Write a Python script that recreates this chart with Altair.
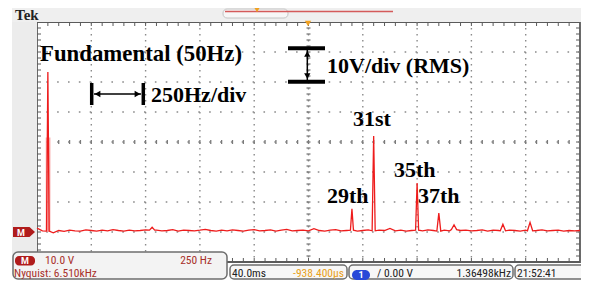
import altair as alt
import pandas as pd

# ---------------- data read from the screen ----------------
# spectrum floor (V RMS), one value every 25 Hz from 0 to 2500 Hz
FLOOR_STEP_HZ = 25
floor_volts = [
    1.3, 0.4, 0.3, -0.3, 0.5, 0.2, 0.6, 0.4, 0.3, 0.7,
    0.5, 0.3, 0.6, 0.4, 0.8, 0.5, 0.3, 0.6, 0.4, 0.5,
    0.7, 0.6, 0.6, 0.4, 0.5, 0.8, 0.3, 0.6, 0.5, 0.4,
    0.6, 0.9, 0.5, 0.3, 0.6, 0.4, 0.7, 0.5, 0.3, 0.6,
    0.8, 0.4, 0.5, 0.7, 0.3, 0.6, 0.9, 0.4, 0.5, 0.6,
    0.4, 1.1, 0.5, 0.3, 0.6, 0.8, 0.4, 0.5, 0.6, 0.3,
    0.5, 0.7, 0.4, 0.6, 0.5, 1.2, 0.4, 0.6, 0.3, 0.5,
    0.6, 0.4, 0.7, 0.5, 0.3, 0.6, 0.4, 0.8, 0.5, 0.6,
    0.4, 0.5, 0.7, 0.3, 0.6, 0.5, 0.4, 0.6, 0.5, 0.3,
    0.6, 0.4, 0.5, 0.7, 0.4, 0.5, 0.6, 0.3, 0.5, 0.4,
    0.5,
]
# spectral lines: frequency (Hz), amplitude (V RMS), half width (Hz)
peak_freqs = [50, 530, 1450, 1550, 1750, 1850, 1920, 2145, 2270]
peak_volts = [53.3, 1.6, 7.7, 32.0, 16.3, 6.3, 2.4, 2.6, 3.2]
peak_halfwidth = [6, 12, 7, 7, 7, 9, 12, 12, 12]
# envelope drawn around the fundamental
fund_env_hz = [40, 62]
fund_env_volts = [0, 31.5]

harmonic_labels = ["29th", "31st", "35th", "37th"]

# ---------------- build the trace ----------------
pts = []
for i, v in enumerate(floor_volts):
    f = i * FLOOR_STEP_HZ
    if any(abs(f - pf) <= hw + 3 for pf, hw in zip(peak_freqs, peak_halfwidth)):
        continue
    pts.append((f, v))
for pf, pv, hw in zip(peak_freqs, peak_volts, peak_halfwidth):
    base = floor_volts[int(round(pf / FLOOR_STEP_HZ))]
    pts += [(pf - hw, base), (pf, pv), (pf + hw, base)]
pts.sort()
trace = pd.DataFrame(pts, columns=["f", "v"])

XS = alt.Scale(domain=[0, 2500], nice=False, zero=False)
YS = alt.Scale(domain=[-10, 70], nice=False, zero=False)


def X(field):
    return alt.X(field, type="quantitative", scale=XS, axis=None)


def Y(field):
    return alt.Y(field, type="quantitative", scale=YS, axis=None)


one = pd.DataFrame({"_": [0]})
W, H = 543, 240
GRID = "#8a8a8a"
BORDER = "#5a5a5a"


def prect(x, x2, y, y2, **kw):
    return alt.Chart(one).mark_rect(**kw).encode(
        x=alt.value(x), x2=alt.value(x2), y=alt.value(y), y2=alt.value(y2))


def prule(x, x2, y, y2, **kw):
    return alt.Chart(one).mark_rule(**kw).encode(
        x=alt.value(x), x2=alt.value(x2), y=alt.value(y), y2=alt.value(y2))


def ptext(txt, x, y, **kw):
    return alt.Chart(one).mark_text(text=txt, **kw).encode(
        x=alt.value(x), y=alt.value(y))


def ppoint(x, y, **kw):
    return alt.Chart(one).mark_point(filled=True, opacity=1, **kw).encode(
        x=alt.value(x), y=alt.value(y))


layers = []
# gray screen frame
layers.append(prect(-25, 0, -14, H, color="#ececec"))
layers.append(prect(-25, W + 2, -14, 0, color="#efefef"))

# graticule: dotted grid
gx = pd.DataFrame({"f": [250 * k for k in range(1, 10)]})
gy = pd.DataFrame({"v": [10 * k for k in range(0, 7)]})
layers.append(alt.Chart(gx).mark_rule(color=GRID, strokeWidth=1.4, strokeDash=[1.4, 4.6])
              .encode(x=X("f")))
layers.append(alt.Chart(gy).mark_rule(color=GRID, strokeWidth=1.6, strokeDash=[1.6, 9.26])
              .encode(y=Y("v")))

# minor ticks on border and centre lines
tx = pd.DataFrame({"f": [50 * k for k in range(1, 50)]})
ty = pd.DataFrame({"v": [-10 + 2 * k for k in range(1, 40)]})
layers.append(alt.Chart(tx).mark_rule(color=BORDER, strokeWidth=1)
              .encode(x=X("f"), y=alt.value(0), y2=alt.value(4)))
layers.append(alt.Chart(tx).mark_rule(color=BORDER, strokeWidth=1)
              .encode(x=X("f"), y=alt.value(H - 4), y2=alt.value(H)))
layers.append(alt.Chart(ty).mark_rule(color=BORDER, strokeWidth=1)
              .encode(y=Y("v"), x=alt.value(0), x2=alt.value(4)))
layers.append(alt.Chart(ty).mark_rule(color=BORDER, strokeWidth=1)
              .encode(y=Y("v"), x=alt.value(W - 4), x2=alt.value(W)))
layers.append(alt.Chart(tx).mark_rule(color="#7a7a7a", strokeWidth=1.3)
              .encode(x=X("f"), y=alt.value(H / 2 - 2), y2=alt.value(H / 2 + 2)))
layers.append(alt.Chart(ty).mark_rule(color="#7a7a7a", strokeWidth=1.3)
              .encode(y=Y("v"), x=alt.value(W / 2 - 2), x2=alt.value(W / 2 + 2)))

# fundamental envelope + trace
env = pd.DataFrame({"f0": [fund_env_hz[0]], "f1": [fund_env_hz[1]],
                    "v0": [fund_env_volts[0]], "v1": [fund_env_volts[1]]})
layers.append(alt.Chart(env).mark_rect(color="#f5a0a0", opacity=0.8)
              .encode(x=X("f0"), x2="f1", y=Y("v0"), y2="v1"))
layers.append(alt.Chart(trace).mark_line(color="#ee1c1c", strokeWidth=1.3)
              .encode(x=X("f"), y=Y("v")))

# annotations
SERIF = dict(font="Liberation Serif", fontWeight="bold", fontSize=22,
             color="black", align="left", baseline="alphabetic")
layers.append(ptext("Fundamental (50Hz)", 3, 39, **dict(SERIF, fontSize=22.8)))
layers.append(ptext("250Hz/div", 114, 79.5, **SERIF))
layers.append(ptext("10V/div (RMS)", 290, 51.3, **SERIF))
label_pos = {"29th": (290, 180.7), "31st": (316, 104),
             "35th": (357, 154.7), "37th": (381, 180.7)}
for lab in harmonic_labels:
    lx, ly = label_pos[lab]
    layers.append(ptext(lab, lx, ly, **SERIF))

# 250Hz/div double arrow
layers.append(prule(54.7, 54.7, 61, 83, color="black", strokeWidth=3.5))
layers.append(prule(106.3, 106.3, 61, 83, color="black", strokeWidth=3.5))
layers.append(prule(57, 104, 72, 72, color="black", strokeWidth=1.5))
layers.append(ppoint(60.5, 72, shape="triangle-left", size=45, color="black"))
layers.append(ppoint(100.5, 72, shape="triangle-right", size=45, color="black"))

# 10V/div I-beam
layers.append(prule(251, 288, 26.3, 26.3, color="black", strokeWidth=4))
layers.append(prule(251, 288, 59.7, 59.7, color="black", strokeWidth=4))
layers.append(prule(270.3, 270.3, 28, 58, color="black", strokeWidth=1.5))
layers.append(ppoint(270.3, 32, shape="triangle-up", size=40, color="black"))
layers.append(ppoint(270.3, 54, shape="triangle-down", size=40, color="black"))

# top bar
layers.append(ptext("Tek", -22, -2.5, font="Liberation Serif", fontWeight="bold",
                    fontSize=15, align="left", baseline="alphabetic", color="#222"))
layers.append(prect(186, 251, -13, -4, fill="#f7f7f7", stroke="#c4c4c4",
                    strokeWidth=1, cornerRadius=4))
layers.append(prule(188, 356, -10.5, -10.5, color="#d45a5a", strokeWidth=1.6))
layers.append(ppoint(220, -12, shape="triangle-down", size=30, color="#f0a020"))
layers.append(ppoint(271, 1.5, shape="triangle-down", size=40, color="#f0a020"))

# channel marker "M"
layers.append(ppoint(-13, 210, shape="M-1,-0.45L0.5,-0.45L1,0L0.5,0.45L-1,0.45Z",
                     size=484, color="#b01c1c"))
layers.append(ptext("M", -16, 210.5, font="Roboto", fontWeight="bold", fontSize=9,
                    color="white", align="center", baseline="middle"))

# status boxes
SANS = "'Liberation Sans Narrow', 'Roboto Condensed', Roboto, sans-serif"
DRED = "#a8302a"
FS = 11.5
layers.append(prect(-24, 190, 230, 257, fill="#f3f3f3", stroke="#6e6e6e",
                    strokeWidth=1.5, cornerRadius=5))
layers.append(prect(-22, -2, 234, 243.5, fill="#b01c1c", cornerRadius=4))
layers.append(ptext("M", -12, 239, font="Roboto", fontWeight="bold", fontSize=9,
                    color="white", align="center", baseline="middle"))
layers.append(ptext("10.0 V", 8, 239, font=SANS, fontSize=FS, color=DRED,
                    align="left", baseline="middle"))
layers.append(ptext("250 Hz", 175, 239, font=SANS, fontSize=FS, color=DRED,
                    align="right", baseline="middle"))
layers.append(ptext("Nyquist: 6.510kHz", -23, 252, font=SANS, fontSize=FS, color=DRED,
                    align="left", baseline="middle"))

layers.append(prect(193, 310, 243, 257, fill="#f7f7f7", stroke="#6e6e6e",
                    strokeWidth=1.5, cornerRadius=4))
layers.append(ptext("40.0ms", 195, 252, font=SANS, fontSize=FS, color="#222",
                    align="left", baseline="middle"))
layers.append(ptext("-938.400µs", 307, 252, font=SANS, fontSize=FS, color="#e8a020",
                    align="right", baseline="middle"))

layers.append(prect(312, 476, 243, 257, fill="#f7f7f7", stroke="#6e6e6e",
                    strokeWidth=1.5, cornerRadius=4))
layers.append(prect(315, 333, 248, 258, fill="#2848d8", cornerRadius=5))
layers.append(ptext("1", 324, 253, font="Roboto", fontWeight="bold", fontSize=9,
                    color="white", align="center", baseline="middle"))
layers.append(ptext("/ 0.00 V", 340, 252, font=SANS, fontSize=FS, color="#222",
                    align="left", baseline="middle"))
layers.append(ptext("1.36498kHz", 474, 252, font=SANS, fontSize=FS, color="#222",
                    align="right", baseline="middle"))

layers.append(prect(478, 552, 243, 257, fill="#f7f7f7", stroke="#6e6e6e",
                    strokeWidth=1.5, cornerRadius=4))
layers.append(ptext("21:52:41", 480, 252, font=SANS, fontSize=FS, color="#222",
                    align="left", baseline="middle"))

chart = alt.layer(*layers).properties(
    width=W, height=H,
    autosize=alt.AutoSizeParams(type="none"),
    padding={"left": 29, "top": 14, "right": 1, "bottom": 18},
    background="white",
).configure_view(stroke=BORDER, strokeWidth=1.8, fill="white")

chart.save("out.html", embed_options={"renderer": "svg", "actions": False})
